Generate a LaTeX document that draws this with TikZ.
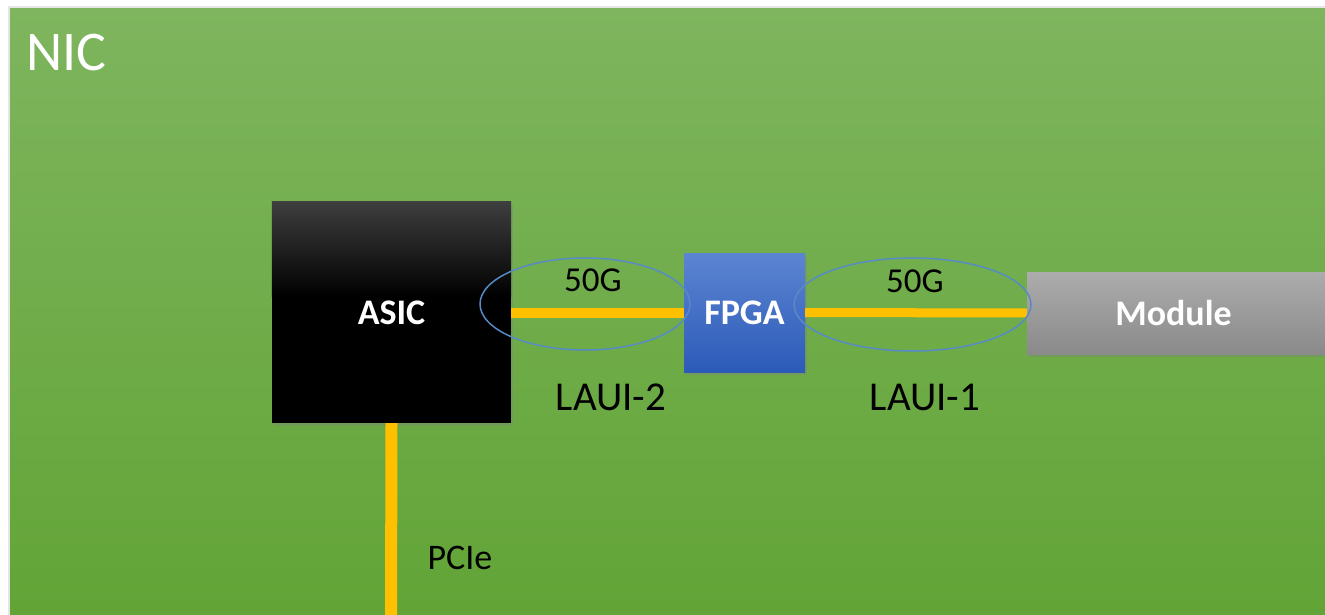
\documentclass[tikz,border=0pt]{standalone}
\usepackage{fontspec}
\setmainfont{Carlito}
\usetikzlibrary{shapes.geometric,shadows}
\definecolor{nicgreenT}{RGB}{126,181,94}
\definecolor{nicgreenB}{RGB}{98,164,54}
\definecolor{link}{RGB}{255,192,0}
\definecolor{ring}{RGB}{88,138,198}
\definecolor{fpgaT}{RGB}{92,133,210}
\definecolor{fpgaB}{RGB}{44,90,184}
\definecolor{modT}{RGB}{172,172,172}
\definecolor{modB}{RGB}{138,138,138}
\definecolor{asicT}{RGB}{62,62,62}
\tikzset{
  chip/.style={rectangle, inner sep=0pt, text=white, font=\fontsize{36}{40}\selectfont\bfseries,
    drop shadow={opacity=0.35, shadow xshift=2pt, shadow yshift=-3pt}},
  lane/.style={ellipse, draw=ring, line width=1.5pt, inner sep=0pt},
  wire/.style={draw=link},
  rate/.style={inner sep=0pt, font=\fontsize{35}{40}\selectfont},
  iface/.style={inner sep=0pt, font=\fontsize{41}{46}\selectfont},
}
\begin{document}
\begin{tikzpicture}[x=1pt,y=-1pt]
\useasboundingbox (0,0) rectangle (1325,615);
\clip (0,0) rectangle (1325,615);
\fill[white] (0,0) rectangle (1325,615);
% board
\fill[black!10] (8,6) rectangle (1330,620);
\shade[top color=nicgreenT, bottom color=nicgreenB] (10,9) rectangle (1330,620);
\node[anchor=west, inner sep=0pt, text=white, font=\fontsize{56}{60}\selectfont] (nic) at (26,53) {NIC};

% chips
\node[chip, minimum width=239pt, minimum height=221pt, fill=black] (asic) at (391.5,312.5) {ASIC};
% dark grey sheen on the upper part of the ASIC
\shade[top color=asicT, bottom color=black] (asic.north west) rectangle ([yshift=-95pt]asic.north east);
\node[chip, minimum width=121pt, minimum height=119pt,
  top color=fpgaT, bottom color=fpgaB] (fpga) at (744.5,312.5) {FPGA};
\node[chip, minimum width=303pt, minimum height=82pt,
  top color=modT, bottom color=modB] (module) at (1178.5,313) {\hspace*{-10pt}Module};

% links
\draw[wire, line width=10pt] (asic.east) -- (fpga.west);
\draw[wire, line width=9pt] (fpga.east) -- (module.west);
\coordinate (pcieend) at (391,620);
\draw[wire, line width=12pt] (asic.south) -- (pcieend);

% lane groupings
\node[lane, minimum width=210pt, minimum height=92pt] (lane2) at (585,304) {};
\node[lane, minimum width=237pt, minimum height=93pt] (lane1) at (912.5,304.5) {};

% labels
\node[rate] (r2) at (593,280) {50G};
\node[rate] (r1) at (915,281) {50G};
\node[iface] (laui2) at (611,397) {LAUI-2};
\node[iface] (laui1) at (925,397) {LAUI-1};
\node[rate, font=\fontsize{36}{40}\selectfont] (pcie) at (460,558) {PCIe};
\end{tikzpicture}
\end{document}
